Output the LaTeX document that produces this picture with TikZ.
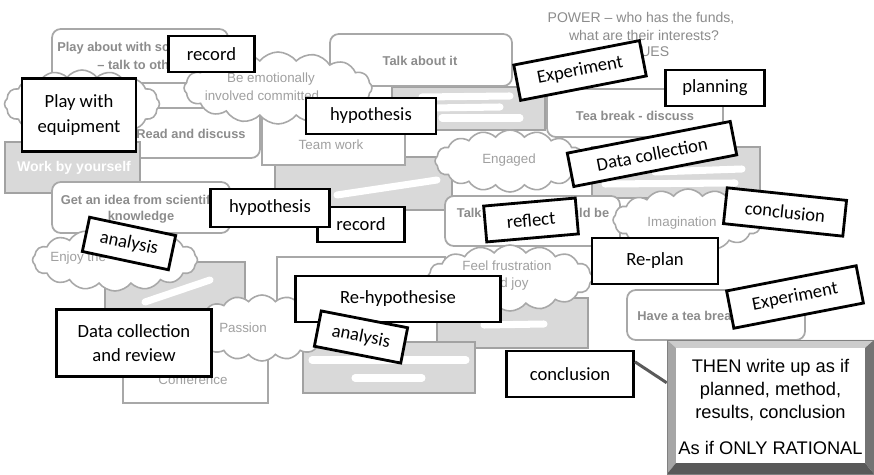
\documentclass[tikz,border=0pt]{standalone}
\usepackage{fontspec}
\setmainfont{Liberation Sans}
\newfontfamily\lblfont{Carlito}
\usetikzlibrary{shapes.symbols,calc}
\definecolor{bgline}{HTML}{A8A8A8}
\definecolor{bgtext}{HTML}{8C8C8C}
\definecolor{cloudtext}{HTML}{A0A0A0}
\definecolor{greyfill}{HTML}{D9D9D9}
\definecolor{greyedge}{HTML}{A2A2A2}
\definecolor{conn}{HTML}{5A5A5A}
\begin{document}
\begin{tikzpicture}[x=0.02cm,y=-0.02cm,
 lbl/.style={draw=black,line width=1.6pt,fill=white,align=center,inner sep=0pt,font=\lblfont\fontsize{10.6}{14}\selectfont},
 rbox/.style={draw=bgline,line width=1pt,fill=white,rounded corners=5pt},
 pbox/.style={draw=bgline,line width=1pt,fill=white},
 gbox/.style={draw=greyedge,line width=1.2pt,fill=greyfill},
 cl/.style={cloud,cloud puffs=16,cloud puff arc=105,cloud ignores aspect,draw=bgline,line width=0.9pt,fill=white,inner sep=0pt},
 btxt/.style={text=bgtext,font=\bfseries\fontsize{7.3}{9}\selectfont,inner sep=0pt},
 ttxt/.style={text=cloudtext,font=\fontsize{7.6}{9}\selectfont,inner sep=0pt},
 ptxt/.style={text=bgtext,font=\fontsize{8}{10}\selectfont,inner sep=0pt},
 blob/.style={white,line width=4pt,line cap=round},
]
\useasboundingbox (0,0) rectangle (874,475);
\fill[white] (0,0) rectangle (874,475);

% ---------- background collage ----------
\draw[rbox] (52,29) rectangle (228,83);
\node[btxt,anchor=west] (t1a) at (57,48) {Play about with science};
\node[btxt,anchor=west] (t1b) at (97,65) {– talk to others};

\draw[rbox] (100,108) rectangle (260,158);
\node[btxt] (t2) at (191,134) {Read and discuss};

\draw[gbox] (392,87) rectangle (545,130);
\draw[blob] (422,97) -- (510,96);
\draw[blob] (432,108) -- (500,107);
\draw[blob] (442,118) -- (520,118);

\draw[rbox] (330,34) rectangle (512,86);
\node[btxt] (t3) at (420,61) {Talk about it};

\draw[rbox] (547,89) rectangle (723,137);
\node[btxt] (t4) at (635,116) {Tea break - discuss};

\node[ptxt] (pw1) at (641,18) {POWER – who has the funds,};
\node[ptxt] (pw2) at (644,35) {what are their interests?};
\node[ptxt] (pw3) at (642,52) {VALUES};

\draw[gbox] (275,157) rectangle (452,210);
\draw[blob] (337,195) -- (437,180);

\draw[pbox] (262,112) rectangle (405,165);
\node[ttxt] (t5) at (331,145) {Team work};

\draw[gbox] (5,142) rectangle (140,193);
\node[text=white,font=\bfseries\fontsize{8}{10}\selectfont] (t6) at (74,168) {Work by yourself};

\draw[gbox] (592,147) rectangle (760,198);
\draw[blob] (655,172) -- (742,169);
\draw[blob] (605,184) -- (735,183);

\draw[rbox] (445,196) rectangle (620,246);
\node[btxt] (t7) at (533,213) {Talk about what could be};

\draw[rbox] (52,182) rectangle (230,233);
\node[btxt] (t8a) at (141,200) {Get an idea from scientific};
\node[btxt] (t8b) at (141,217) {knowledge};

\draw[pbox] (277,257) rectangle (445,300);
\draw[gbox] (105,262) rectangle (245,320);
\draw[blob] (145,302) -- (210,280);

\draw[pbox] (123,345) rectangle (268,403);
\node[ttxt] (t9) at (193,380) {Conference};

\draw[gbox] (437,298) rectangle (588,348);
\draw[blob] (484,325) -- (544,324);

\draw[gbox] (303,342) rectangle (475,393);
\draw[blob] (312,360) -- (466,360);
\draw[blob] (355,378) -- (422,378);

\draw[rbox] (627,290) rectangle (805,340);
\node[btxt,anchor=west] (t10) at (637,316) {Have a tea break};

% clouds
\node[cl,minimum width=3.1cm,minimum height=1.36cm] (c1) at (82,104) {};
\node[cl,minimum width=3.76cm,minimum height=1.44cm] (c2) at (278,88) {};
\node[ttxt] (c2a) at (271,79) {Be emotionally};
\node[ttxt] (c2b) at (262,96) {involved committed};
\node[cl,minimum width=3.0cm,minimum height=1.24cm] (c3) at (510,161) {};
\node[ttxt] (c3t) at (509,160) {Engaged};
\node[cl,minimum width=3.3cm,minimum height=1.24cm] (c4) at (115,260) {};
\node[ttxt,anchor=west] (c4t) at (50,258) {Enjoy the};
\node[cl,minimum width=2.8cm,minimum height=1.32cm] (c5) at (262,328) {};
\node[ttxt] (c5t) at (243,328) {Passion};
\node[cl,minimum width=3.3cm,minimum height=1.32cm] (c6) at (510,278) {};
\node[ttxt] (c6a) at (507,266) {Feel frustration};
\node[ttxt] (c6b) at (507,284) {and joy};
\node[cl,minimum width=3.0cm,minimum height=1.24cm] (c7) at (688,220) {};
\node[ttxt] (c7t) at (682,223) {Imagination};

% ---------- foreground labels ----------
\node[lbl,minimum width=2.28cm,minimum height=1.46cm] (B) at (79,115) {Play with\\equipment};
\node[lbl,minimum width=1.72cm,minimum height=0.72cm] (A) at (211.5,54) {record};
\node[lbl,minimum width=2.6cm,minimum height=0.72cm] (C) at (371,116) {hypothesis};
\node[lbl,minimum width=2.56cm,minimum height=0.72cm,rotate=11] (D) at (580,70.5) {Experiment};
\node[lbl,minimum width=1.98cm,minimum height=0.72cm] (E) at (715,88) {planning};
\node[lbl,minimum width=3.32cm,minimum height=0.68cm,rotate=11] (F) at (652,154) {Data collection};
\node[lbl,minimum width=1.74cm,minimum height=0.70cm] (H) at (361,224.5) {record};
\node[lbl,minimum width=2.38cm,minimum height=0.76cm] (G) at (270,208) {hypothesis};
\node[lbl,minimum width=1.76cm,minimum height=0.70cm,rotate=-12] (I) at (129,243.5) {analysis};
\node[lbl,minimum width=1.84cm,minimum height=0.72cm,rotate=5] (J) at (531,220) {reflect};
\node[lbl,minimum width=2.40cm,minimum height=0.72cm,rotate=-6] (K) at (785,212) {conclusion};
\node[lbl,minimum width=2.52cm,minimum height=0.92cm] (L) at (655,261) {Re-plan};
\node[lbl,minimum width=2.64cm,minimum height=0.76cm,rotate=11] (M) at (795,297) {Experiment};
\node[lbl,minimum width=4.10cm,minimum height=0.92cm] (N) at (398,299) {Re-hypothesise};
\node[lbl,minimum width=1.76cm,minimum height=0.72cm,rotate=-11] (O) at (361,337) {analysis};
\node[lbl,minimum width=3.10cm,minimum height=1.34cm] (P) at (134,343) {Data collection\\and review};

% final bevelled box and its pointer
\node[minimum width=4.14cm,minimum height=2.68cm,inner sep=0pt] (R) at (770.5,407) {};
\node[lbl,minimum width=2.54cm,minimum height=0.92cm] (Q) at (570,374) {conclusion};
\draw[conn,line width=1.7pt] ($(Q.north east)!0.25!(Q.south east)$) -- ($(R.north west)!0.32!(R.south west)$);
\coordinate (o1) at (667,340); \coordinate (o2) at (874,340);
\coordinate (o3) at (874,474); \coordinate (o4) at (667,474);
\coordinate (i1) at (676,348); \coordinate (i2) at (865,348);
\coordinate (i3) at (865,463); \coordinate (i4) at (676,463);
\fill[black!20] (o1) -- (o2) -- (i2) -- (i1) -- cycle;
\fill[black!35] (o1) -- (i1) -- (i4) -- (o4) -- cycle;
\fill[black!55] (o2) -- (o3) -- (i3) -- (i2) -- cycle;
\fill[black!65] (o4) -- (o3) -- (i3) -- (i4) -- cycle;
\fill[white] (i1) rectangle (i3);
\draw[black!50,line width=0.5pt] (o1) rectangle (o3);
\node[align=center,inner sep=0pt,font=\fontsize{10.4}{13.1}\selectfont] (Rt) at (R.center) {THEN write up as if\\planned, method,\\results, conclusion\\[7.5pt]As if ONLY RATIONAL};
\end{tikzpicture}
\end{document}
